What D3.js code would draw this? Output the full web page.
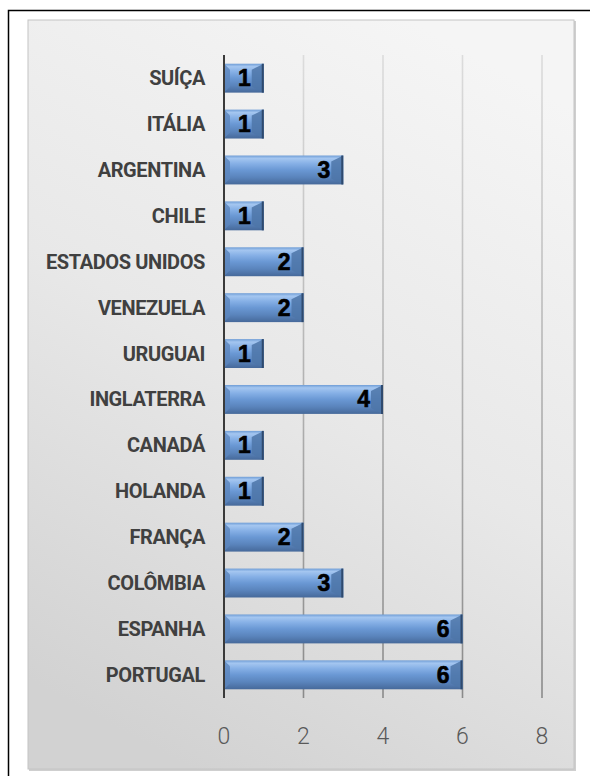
<!DOCTYPE html>
<html lang="pt">

<head>
    <meta charset="UTF-8">
    <title>Países</title>
    <script src="https://d3js.org/d3.v7.min.js"></script>
    <style>
        body { margin: 0; background: #fff; }
        svg { display: block; }
    </style>
</head>

<body>
    <svg id="chart" width="590" height="776"></svg>

    <script>
        // dados
        const paises = ["SUÍÇA", "ITÁLIA", "ARGENTINA", "CHILE", "ESTADOS UNIDOS", "VENEZUELA", "URUGUAI",
            "INGLATERRA", "CANADÁ", "HOLANDA", "FRANÇA", "COLÔMBIA", "ESPANHA", "PORTUGAL"];
        const valores = [1, 1, 3, 1, 2, 2, 1, 4, 1, 1, 2, 3, 6, 6];
        const ticks = [0, 2, 4, 6, 8];

        const svg = d3.select("#chart");
        const defs = svg.append("defs");

        // fundo do painel
        const bg = defs.append("linearGradient").attr("id", "bg")
            .attr("x1", "0.7").attr("y1", "0").attr("x2", "0.3").attr("y2", "1");
        bg.append("stop").attr("offset", "0%").attr("stop-color", "#f5f5f5");
        bg.append("stop").attr("offset", "50%").attr("stop-color", "#e8e8e8");
        bg.append("stop").attr("offset", "100%").attr("stop-color", "#d2d2d2");

        const barGrad = defs.append("linearGradient").attr("id", "bar")
            .attr("x1", 0).attr("y1", 0).attr("x2", 0).attr("y2", 1);
        [["0%", "#6f9dd6"], ["10%", "#a4c6f0"], ["28%", "#86b0e6"], ["50%", "#6a98d4"],
         ["75%", "#5a84bc"], ["100%", "#46699a"]].forEach(s =>
            barGrad.append("stop").attr("offset", s[0]).attr("stop-color", s[1]));

        const gridGrad = defs.append("linearGradient").attr("id", "grid")
            .attr("gradientUnits", "userSpaceOnUse")
            .attr("x1", 0).attr("y1", 55).attr("x2", 0).attr("y2", 700);
        gridGrad.append("stop").attr("offset", "0%").attr("stop-color", "#dcdcdc");
        gridGrad.append("stop").attr("offset", "100%").attr("stop-color", "#8a8a8a");

        // moldura
        svg.append("rect")
            .attr("x", 8.5).attr("y", 10.5).attr("width", 600).attr("height", 800)
            .attr("fill", "#fff").attr("stroke", "#000").attr("stroke-width", 1.5);

        svg.append("rect")
            .attr("x", 29).attr("y", 21).attr("width", 547).attr("height", 750)
            .attr("fill", "#cfcfcf");
        svg.append("rect")
            .attr("x", 28).attr("y", 20).attr("width", 546).attr("height", 749)
            .attr("fill", "url(#bg)").attr("stroke", "#c4c4c4").attr("stroke-width", 1);

        const x = d3.scaleLinear().domain([0, 8]).range([224, 542]);
        const y = d3.scaleBand().domain(paises).range([55, 698]).paddingInner(0.37).paddingOuter(0.19);

        // grade
        svg.append("g")
            .selectAll("line")
            .data(ticks.slice(1))
            .join("line")
            .attr("x1", d => x(d)).attr("x2", d => x(d))
            .attr("y1", 55).attr("y2", 698)
            .attr("stroke", "url(#grid)").attr("stroke-width", 1.6);

        // rótulos do eixo x
        svg.append("g")
            .selectAll("text")
            .data(ticks)
            .join("text")
            .attr("x", d => x(d))
            .attr("y", 744)
            .attr("text-anchor", "middle")
            .attr("font-family", "Roboto, sans-serif")
            .attr("font-weight", 300)
            .attr("font-size", 23)
            .attr("fill", "#595959")
            .text(d => d);

        // barras
        const bars = svg.append("g")
            .selectAll("g")
            .data(paises)
            .join("g");

        bars.append("rect")
            .attr("x", x(0))
            .attr("y", d => y(d))
            .attr("width", (d, i) => x(valores[i]) - x(0))
            .attr("height", y.bandwidth())
            .attr("fill", "url(#bar)");

        // chanfros nas pontas
        const bev = 6;
        bars.append("path")
            .attr("d", (d, i) => {
                const x0 = x(0), y0 = y(d), h = y.bandwidth();
                return `M${x0},${y0}L${x0 + bev},${y0 + bev}L${x0 + bev},${y0 + h - bev}L${x0},${y0 + h}Z`;
            })
            .attr("fill", "#5d86bd").attr("opacity", 0.8);
        bars.append("path")
            .attr("d", (d, i) => {
                const x1 = x(valores[i]), y0 = y(d), h = y.bandwidth();
                return `M${x1},${y0}L${x1 - bev * 2},${y0 + bev}L${x1 - bev * 2},${y0 + h - bev}L${x1},${y0 + h}Z`;
            })
            .attr("fill", "#4e75a8").attr("opacity", 0.85);
        bars.append("line")
            .attr("x1", (d, i) => x(valores[i]) - 1).attr("x2", (d, i) => x(valores[i]) - 1)
            .attr("y1", d => y(d)).attr("y2", d => y(d) + y.bandwidth())
            .attr("stroke", "#2f4a6e").attr("stroke-width", 2);

        // eixo vertical
        svg.append("line")
            .attr("x1", x(0)).attr("x2", x(0))
            .attr("y1", 55).attr("y2", 698)
            .attr("stroke", "#3a3a3a").attr("stroke-width", 2);

        // valores
        bars.append("text")
            .attr("x", (d, i) => x(valores[i]) - 13)
            .attr("y", d => y(d) + y.bandwidth() / 2 + 8)
            .attr("text-anchor", "end")
            .attr("font-family", "'Liberation Sans', Arial, sans-serif")
            .attr("font-weight", "bold")
            .attr("font-size", 23)
            .attr("fill", "#000")
            .attr("stroke", "#000").attr("stroke-width", 0.6)
            .text((d, i) => valores[i]);

        // categorias
        svg.append("g")
            .selectAll("text")
            .data(paises)
            .join("text")
            .attr("x", 205)
            .attr("y", d => y(d) + y.bandwidth() / 2 + 7)
            .attr("text-anchor", "end")
            .attr("font-family", "Roboto, sans-serif")
            .attr("font-weight", "bold")
            .attr("font-size", 20)
            .attr("letter-spacing", -0.4)
            .attr("fill", "#404040")
            .text(d => d);
    </script>
</body>

</html>
